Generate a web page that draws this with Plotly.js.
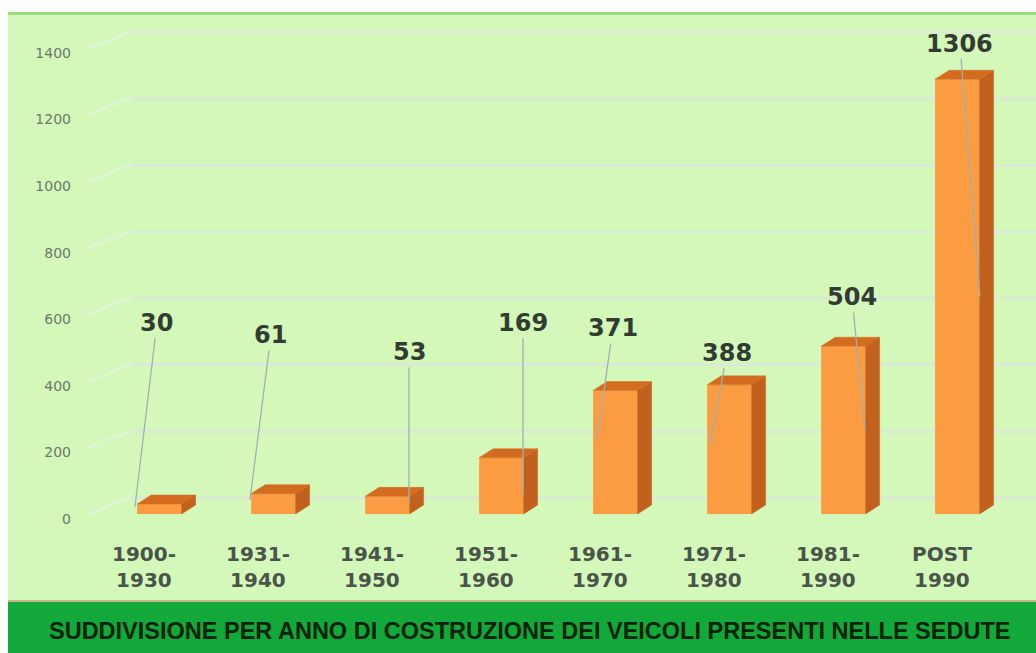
<!DOCTYPE html>
<html>
<head>
<meta charset="utf-8">
<script src="https://cdn.plot.ly/plotly-3.0.1.min.js"></script>
<style>
  html, body { margin: 0; padding: 0; background: #ffffff; }
  #chart { width: 1036px; height: 653px; }
</style>
</head>
<body>
<div id="chart"></div>
<script>
// ---------------- DATA ----------------
const categories = ['1900-1930', '1931-1940', '1941-1950', '1951-1960', '1961-1970', '1971-1980', '1981-1990', 'POST 1990'];
const tickLabels = ['1900-<br>1930', '1931-<br>1940', '1941-<br>1950', '1951-<br>1960', '1961-<br>1970', '1971-<br>1980', '1981-<br>1990', 'POST<br>1990'];
const values = [30, 61, 53, 169, 371, 388, 504, 1306];
const yTicks = [0, 200, 400, 600, 800, 1000, 1200, 1400];
const chartTitle = 'SUDDIVISIONE PER ANNO DI COSTRUZIONE DEI VEICOLI PRESENTI NELLE SEDUTE';

// ---------------- LAYOUT / STYLE ----------------
const W = 1036, H = 653;
const L = 80, T = 12, PB = 535;          // plot area pixel bounds
const B = H - PB;
const xRange = [-0.561, 7.825];
const yRange = [-63.1, 1508];
const barOffset = -0.06, barWidth = 0.39;
const depthX = 0.123, depthY = 27;       // 3D depth of bars (axis units)
const wallX = -0.123, wallY = 48, wallLeft = -0.49;  // back wall geometry

// leader lines: tip position relative to bar (dx in category units, fraction of value), text offset in px
const leaders = [
  {dx: -0.079, f: 0.70, ax: 22,  ay: -184},
  {dx: -0.07,  f: 0.69, ax: 21,  ay: -165},
  {dx: 0.325,  f: 0.62, ax: 0,   ay: -151},
  {dx: 0.325,  f: 0.34, ax: 0,   ay: -172},
  {dx: -0.026, f: 0.60, ax: 16,  ay: -112},
  {dx: -0.035, f: 0.53, ax: 17,  ay: -93},
  {dx: 0.325,  f: 0.50, ax: -13, ay: -133},
  {dx: 0.333,  f: 0.50, ax: -20, ay: -253}
];

const px = x => (x - L) / (W - L);
const py = y => (PB - y) / (PB - T);

const idx = categories.map((_, i) => i);

// front faces
const front = {
  type: 'bar', x: idx, y: values,
  width: barWidth, offset: barOffset,
  marker: {color: '#fc9c42', line: {width: 0}},
  hoverinfo: 'skip'
};

// top and side faces
const topX = [], topY = [], sideX = [], sideY = [];
values.forEach((v, i) => {
  const xl = i + barOffset, xr = xl + barWidth;
  topX.push(xl, xr, xr + depthX, xl + depthX, xl, null);
  topY.push(v, v, v + depthY, v + depthY, v, null);
  sideX.push(xr, xr + depthX, xr + depthX, xr, xr, null);
  sideY.push(0, depthY, v + depthY, v, 0, null);
});
const topFace = {
  type: 'scatter', mode: 'lines', x: topX, y: topY, fill: 'toself',
  fillcolor: '#d46c1f', line: {color: '#d46c1f', width: 0.5}, hoverinfo: 'skip'
};
const sideFace = {
  type: 'scatter', mode: 'lines', x: sideX, y: sideY, fill: 'toself',
  fillcolor: '#c2611d', line: {color: '#c2611d', width: 0.5}, hoverinfo: 'skip'
};

// shapes: background, borders, 3D gridlines
const shapes = [
  {type: 'rect', xref: 'paper', yref: 'paper', layer: 'below',
   x0: px(8), x1: px(W), y0: py(600), y1: py(14),
   fillcolor: '#d4f8ba', line: {width: 0}},
  {type: 'line', xref: 'paper', yref: 'paper', layer: 'below',
   x0: px(8), x1: px(W), y0: py(13.5), y1: py(13.5),
   line: {color: '#9cdc7e', width: 3}},
  {type: 'rect', xref: 'paper', yref: 'paper', layer: 'below',
   x0: px(8), x1: px(W), y0: py(H + 2), y1: py(602),
   fillcolor: '#12a83a', line: {width: 0}},
  {type: 'line', xref: 'paper', yref: 'paper', layer: 'below',
   x0: px(8), x1: px(W), y0: py(601), y1: py(601),
   line: {color: '#c7b98c', width: 2}}
];
yTicks.forEach(v => {
  shapes.push({type: 'line', xref: 'x', yref: 'y', layer: 'below',
    x0: wallLeft, y0: v, x1: wallX, y1: v + wallY,
    line: {color: '#e3f4dc', width: 2}});
  shapes.push({type: 'line', xref: 'x', yref: 'y', layer: 'below',
    x0: wallX, y0: v + wallY, x1: xRange[1], y1: v + wallY,
    line: {color: '#d9e8d8', width: 2.5}});
});

// annotations: value labels with leader lines + banner title
const annotations = values.map((v, i) => ({
  x: i + leaders[i].dx, y: v * leaders[i].f, xref: 'x', yref: 'y',
  text: String(v), showarrow: true, arrowhead: 0, arrowwidth: 1.3,
  arrowcolor: '#a3aeb2', ax: leaders[i].ax, ay: leaders[i].ay,
  font: {family: 'DejaVu Sans', size: 24, color: '#323c32', weight: 'bold'}
}));
annotations.push({
  xref: 'paper', yref: 'paper', x: px(529), y: py(631),
  text: '<b>' + chartTitle + '</b>', showarrow: false,
  xanchor: 'center', yanchor: 'middle',
  font: {family: 'Liberation Sans', size: 23.5, color: '#08220a'}
});

const layout = {
  width: W, height: H,
  margin: {l: L, r: 0, t: T, b: B, pad: 0},
  paper_bgcolor: '#ffffff', plot_bgcolor: 'rgba(0,0,0,0)',
  showlegend: false, hovermode: false,
  xaxis: {
    range: xRange, tickvals: idx, ticktext: tickLabels,
    showgrid: false, zeroline: false, showline: false, ticks: '',
    ticklabelstandoff: 5,
    tickfont: {family: 'DejaVu Sans', size: 20, color: '#4a544a', weight: 'bold'}
  },
  yaxis: {
    range: yRange, tickvals: yTicks,
    showgrid: false, zeroline: false, showline: false, ticks: '',
    ticklabelshift: 5, ticklabelstandoff: 8,
    tickfont: {family: 'DejaVu Sans', size: 14, color: '#6a786a'}
  },
  shapes: shapes,
  annotations: annotations
};

Plotly.newPlot('chart', [front, sideFace, topFace], layout, {staticPlot: true, displayModeBar: false});
</script>
</body>
</html>
